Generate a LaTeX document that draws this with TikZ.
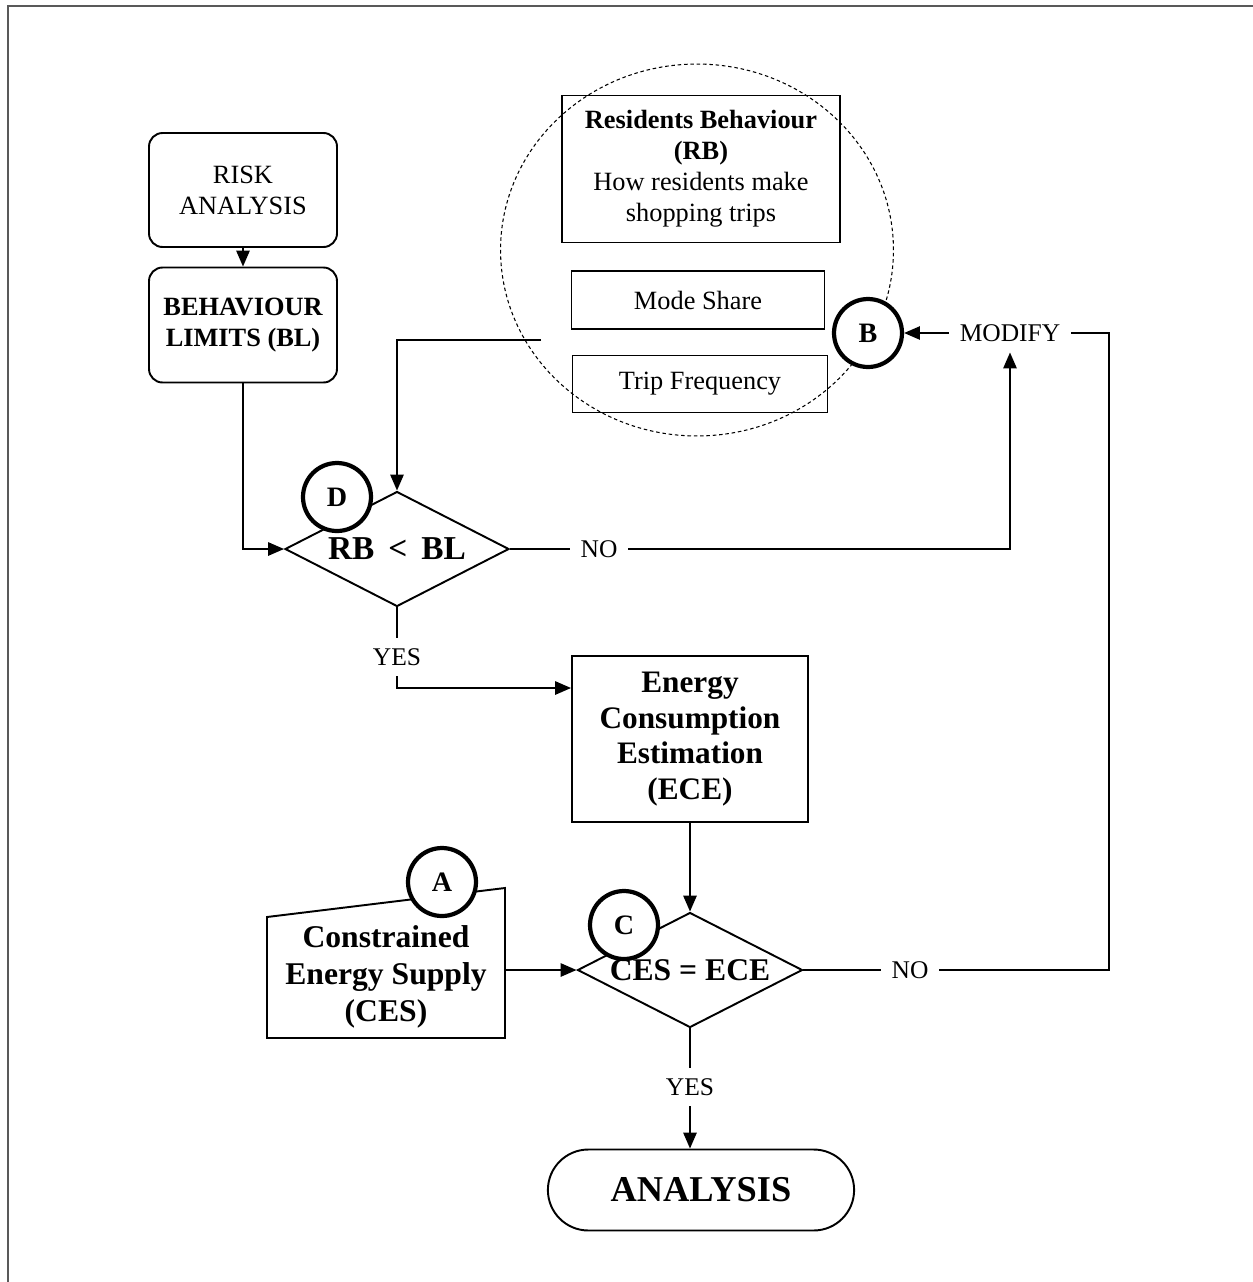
\documentclass[tikz,border=0pt]{standalone}
\usepackage{fontspec}
\setmainfont{Liberation Serif}
\usetikzlibrary{arrows.meta,shapes.geometric,shapes.misc}
\tikzset{
  txt/.style={align=center,font=\fontsize{15}{17.6}\selectfont},
  box/.style={draw,line width=1.1pt,inner sep=0pt,txt},
  rbox/.style={box,rounded corners=0.27cm},
  dec/.style={draw,diamond,aspect=2,inner sep=0pt,line width=1.1pt,
    minimum width=4.48cm,minimum height=2.3cm},
  tag/.style={draw,circle,fill=white,line width=2.4pt,inner sep=0pt,
    minimum size=1.36cm,font=\fontsize{16}{16}\selectfont\bfseries},
  lbl/.style={inner sep=6pt,font=\fontsize{14.5}{17}\selectfont},
  con/.style={line width=1.1pt},
  arr/.style={con,-{Triangle[length=9pt,width=7.5pt]}},
}
\begin{document}
\begin{tikzpicture}[x=0.02cm,y=-0.02cm]
		%%%%% FRAME %%%%%
		\useasboundingbox (0,0) rectangle (1253,1282);
		\draw[line width=1.2pt,color=black!65] (8,1282) -- (8,6) -- (1253,6);
		
		%%%%% LEFT COLUMN %%%%%
		\node[rbox,minimum width=3.76cm,minimum height=2.28cm] (risk) at (243,190) {RISK\\ANALYSIS};
		\node[rbox,minimum width=3.76cm,minimum height=2.3cm,font=\fontsize{15}{17.6}\selectfont\bfseries] (bl) at (243,325) {BEHAVIOUR\\LIMITS (BL)};
		
		%%%%% RESIDENTS BEHAVIOUR %%%%%
		\node[draw,ellipse,line width=0.6pt,dash pattern=on 2pt off 1.6pt,minimum width=7.86cm,minimum height=7.44cm] (grp) at (697,250) {};
		\node[box,minimum width=5.56cm,minimum height=2.94cm] (rb) at (701,169) {\textbf{Residents Behaviour}\\\textbf{(RB)}\\How residents make\\shopping trips};
		\node[box,minimum width=5.06cm,minimum height=1.16cm] (mode) at (698,300) {Mode Share};
		\node[box,minimum width=5.1cm,minimum height=1.14cm] (trip) at (700,384) {Trip Frequency};
		\coordinate (rbout) at (541,340);
		
		%%%%% CHECKS %%%%%
		\node[dec,font=\fontsize{19}{19}\selectfont\bfseries] (chkbl) at (397,549) {RB \,<\, BL};
		\node[dec,minimum width=4.5cm,font=\fontsize{18}{18}\selectfont\bfseries] (chkces) at (690,970) {CES = ECE};
		
		\node[box,minimum width=4.72cm,minimum height=3.32cm,font=\fontsize{17.8}{20.4}\selectfont\bfseries] (ece) at (690,739) {Energy\\Consumption\\Estimation\\(ECE)};
		
		\draw[con] (267,1038) -- (267,917) -- (505,888) -- (505,1038) -- cycle;
		\node[txt,font=\fontsize{18}{21}\selectfont\bfseries] (ces) at (386,977) {Constrained\\Energy Supply\\(CES)};
		\coordinate (cesout) at (505,970);
		
		\node[draw,rounded rectangle,line width=1.1pt,minimum width=6.36cm,minimum height=1.62cm,font=\fontsize{20.7}{20.7}\selectfont\bfseries] (ana) at (701,1190) {ANALYSIS};
		
		%%%%% LABELS %%%%%
		\node[lbl] (no1) at (599,549) {NO};
		\node[lbl] (no2) at (910,970) {NO};
		\node[lbl] (yes1) at (397,657) {YES};
		\node[lbl] (yes2) at (690,1087) {YES};
		\node[lbl] (modify) at (1010,333) {MODIFY};
		\coordinate (loop) at (1109,333);
		
		%%%%% ARROWS %%%%%
		\draw[arr] (risk) -- (bl);
		\draw[arr] (bl.south) |- (chkbl.west);
		\draw[arr] (rbout) -| (chkbl.north);
		\draw[con] (chkbl.east) -- (no1.west);
		\draw[arr] (no1.east) -| (modify.south);
		\draw[con] (chkbl.south) -- (yes1.north);
		\draw[arr] (yes1.south) |- (ece.west |- 0,688);
		\draw[arr] (ece) -- (chkces);
		\draw[arr] (cesout) -- (chkces.west);
		\draw[con] (chkces.east) -- (no2.west);
		\draw[con] (no2.east) -| (loop) -- (modify.east);
		\draw[con] (chkces.south) -- (yes2.north);
		\draw[arr] (yes2.south) -- (yes2.south |- ana.north);
		
		%%%%% TAGS %%%%%
		\node[tag] (tagA) at (442,882) {A};
		\node[tag] (tagB) at (868,333) {B};
		\node[tag] (tagC) at (624,925) {C};
		\node[tag] (tagD) at (337,497) {D};
		\draw[arr] (modify.west) -- (tagB.east);
		
		%%%%% END %%%%%
	\end{tikzpicture}
\end{document}
